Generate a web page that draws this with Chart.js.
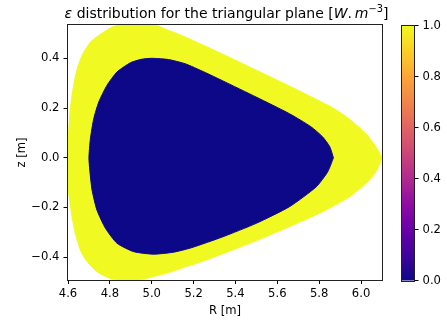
<!DOCTYPE html>
<html>
<head>
<meta charset="utf-8">
<script src="https://cdn.jsdelivr.net/npm/chart.js@4/dist/chart.umd.min.js"></script>
<style>
    body { margin: 0; background: #fff; }
    #wrap { position: relative; width: 447px; height: 322px; }
    #wrap canvas { position: absolute; left: 0; top: 0; }
</style>
</head>
<body>
<div id="wrap">
    <canvas id="mainChart" width="447" height="322"></canvas>
    <canvas id="barChart" width="447" height="322"></canvas>
</div>
<script>
// boundary of the emitting region (value 1.0)
const outerR = [6.100, 6.072, 6.024, 5.945, 5.870, 5.750, 5.600, 5.450, 5.300, 5.149, 5.070, 5.015, 4.930, 4.840,
    4.802, 4.747, 4.707, 4.667, 4.640, 4.624, 4.611, 4.604, 4.600, 4.600, 4.608, 4.619, 4.635, 4.659, 4.691, 4.738,
    4.790, 4.830, 4.940, 5.000, 5.070, 5.149, 5.229, 5.340, 5.499, 5.658, 5.817, 5.945, 6.024, 6.072, 6.100];
const outerZ = [0.000, 0.043, 0.096, 0.155, 0.198, 0.250, 0.312, 0.372, 0.432, 0.490, 0.516, 0.534, 0.534, 0.534,
    0.522, 0.492, 0.465, 0.412, 0.345, 0.277, 0.197, 0.117, 0.080, -0.120, -0.170, -0.237, -0.304, -0.371, -0.418, -0.458,
    -0.482, -0.492, -0.492, -0.480, -0.465, -0.443, -0.421, -0.386, -0.334, -0.277, -0.217, -0.157, -0.103, -0.056, 0.000];

// boundary of the core region (value 0.0)
const innerR = [5.868, 5.850, 5.815, 5.760, 5.658, 5.499, 5.340, 5.250, 5.160, 5.080, 5.000, 4.950, 4.898, 4.834, 4.786,
    4.747, 4.723, 4.707, 4.700, 4.704, 4.715, 4.738, 4.779, 4.834, 4.914, 5.009, 5.105, 5.190, 5.340, 5.499, 5.658,
    5.786, 5.841, 5.868];
const innerZ = [0.000, 0.045, 0.085, 0.125, 0.177, 0.244, 0.309, 0.345, 0.378, 0.395, 0.400, 0.396, 0.382, 0.345, 0.291,
    0.224, 0.157, 0.076, 0.000, -0.049, -0.130, -0.210, -0.284, -0.344, -0.378, -0.388, -0.380, -0.362, -0.318, -0.264, -0.197,
    -0.117, -0.056, 0.000];

const xTicks = [4.6, 4.8, 5.0, 5.2, 5.4, 5.6, 5.8, 6.0];
const yTicks = [-0.4, -0.2, 0.0, 0.2, 0.4];
const cbTicks = [0.0, 0.2, 0.4, 0.6, 0.8, 1.0];

// title pieces: plain text, math italic and superscript
const titleParts = [
    { text: '\u03b5', style: 'italic' },
    { text: ' distribution for the triangular plane [', style: 'normal' },
    { text: 'W', style: 'italic' },
    { text: '.\u2009', style: 'normal' },
    { text: 'm', style: 'italic' },
    { text: '\u22123', style: 'sup' },
    { text: ']', style: 'normal' }
];

const fmt = v => (v < 0 ? '\u2212' : '') + Math.abs(v).toFixed(1);

Chart.defaults.font.family = 'DejaVu Sans';
Chart.defaults.font.size = 11.6;
Chart.defaults.color = '#000';

const toPoints = (rs, zs) => rs.map((r, i) => ({ x: r, y: zs[i] }));

const framePlugin = {
    id: 'frame',
    afterDatasetsDraw(chart) {
        const { ctx, chartArea: a } = chart;
        ctx.save();
        ctx.strokeStyle = '#222';
        ctx.lineWidth = 1;
        ctx.strokeRect(Math.round(a.left) - 0.5, Math.round(a.top) - 0.5,
            Math.round(a.right - a.left) + 1, Math.round(a.bottom - a.top) + 1);
        ctx.restore();
    }
};

const mathTitle = {
    id: 'mathTitle',
    afterDraw(chart) {
        const { ctx, chartArea: a } = chart;
        const size = 14;
        const fontFor = s => s === 'italic' ? `italic ${size}px "DejaVu Sans"`
            : s === 'sup' ? `${size * 0.7}px "DejaVu Sans"` : `${size}px "DejaVu Sans"`;
        ctx.save();
        let total = 0;
        const widths = titleParts.map(p => {
            ctx.font = fontFor(p.style);
            const w = ctx.measureText(p.text).width;
            total += w;
            return w;
        });
        let x = (a.left + a.right) / 2 + 1.5 - total / 2;
        const base = 17.5;
        ctx.fillStyle = '#000';
        ctx.textBaseline = 'alphabetic';
        ctx.textAlign = 'left';
        titleParts.forEach((p, i) => {
            ctx.font = fontFor(p.style);
            ctx.fillText(p.text, x, p.style === 'sup' ? base - 5.5 : base);
            x += widths[i];
        });
        ctx.restore();
    }
};

new Chart(document.getElementById('mainChart'), {
    type: 'scatter',
    data: {
        datasets: [
            {
                label: 'core',
                data: toPoints(innerR, innerZ),
                showLine: true,
                fill: 'shape',
                backgroundColor: '#0d0887',
                borderColor: '#0d0887',
                borderWidth: 1,
                pointRadius: 0,
                tension: 0.2
            },
            {
                label: 'edge',
                data: toPoints(outerR, outerZ),
                showLine: true,
                fill: 'shape',
                backgroundColor: '#f0f921',
                borderColor: '#f0f921',
                borderWidth: 1,
                pointRadius: 0,
                tension: 0.2
            }
        ]
    },
    options: {
        responsive: false,
        animation: false,
        layout: { padding: { left: 0, right: 65, top: 25, bottom: 0 } },
        plugins: {
            legend: { display: false },
            tooltip: { enabled: false },
            title: { display: false }
        },
        scales: {
            x: {
                type: 'linear',
                min: 4.6,
                max: 6.1,
                afterBuildTicks: s => { s.ticks = xTicks.map(v => ({ value: v })); },
                afterFit: s => { s.height = 42; },
                ticks: { callback: v => fmt(v), padding: 3, maxRotation: 0 },
                grid: { drawOnChartArea: false, drawTicks: true, tickLength: 4, tickColor: '#000' },
                border: { display: false },
                title: { display: true, text: 'R [m]', padding: { top: 0, bottom: 4 } }
            },
            y: {
                type: 'linear',
                min: -0.492,
                max: 0.534,
                afterBuildTicks: s => { s.ticks = yTicks.map(v => ({ value: v })); },
                afterFit: s => { s.width = 68; },
                ticks: { callback: v => fmt(v), padding: 4 },
                grid: { drawOnChartArea: false, drawTicks: true, tickLength: 4.5, tickColor: '#000' },
                border: { display: false },
                title: { display: true, text: 'z [m]', padding: { top: 15, bottom: 0 } }
            }
        }
    },
    plugins: [framePlugin, mathTitle]
});

// colour bar (plasma colormap)
const gradientPlugin = {
    id: 'plasmaBar',
    beforeDatasetsDraw(chart) {
        const { ctx, chartArea: a } = chart;
        const g = ctx.createLinearGradient(0, a.bottom, 0, a.top);
        const stops = ['#0d0887', '#41049d', '#6a00a8', '#8f0da4', '#b12a90', '#cc4778',
            '#e16462', '#f2844b', '#fca636', '#fcce25', '#f0f921'];
        stops.forEach((c, i) => g.addColorStop(i / (stops.length - 1), c));
        ctx.save();
        ctx.fillStyle = g;
        ctx.fillRect(a.left, a.top, a.right - a.left, a.bottom - a.top);
        ctx.restore();
    }
};

new Chart(document.getElementById('barChart'), {
    type: 'scatter',
    data: { datasets: [] },
    options: {
        responsive: false,
        animation: false,
        layout: { padding: { left: 402, right: 0, top: 25.5, bottom: 41.5 } },
        plugins: { legend: { display: false }, tooltip: { enabled: false } },
        scales: {
            x: { display: false, min: 0, max: 1 },
            y: {
                position: 'right',
                min: 0,
                max: 1,
                afterBuildTicks: s => { s.ticks = cbTicks.map(v => ({ value: v })); },
                afterFit: s => { s.width = 33; },
                ticks: { callback: v => fmt(v), padding: 4 },
                grid: { drawOnChartArea: false, drawTicks: true, tickLength: 4.5, tickColor: '#000' },
                border: { display: false }
            }
        }
    },
    plugins: [gradientPlugin, framePlugin]
});
</script>
</body>
</html>
